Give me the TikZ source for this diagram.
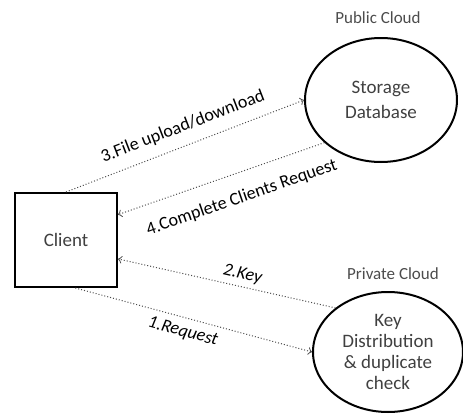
\documentclass[tikz,border=0pt]{standalone}
\usepackage{fontspec}
\setmainfont{Carlito}
\usetikzlibrary{shapes.geometric}
\begin{document}
\begin{tikzpicture}[x=0.5pt,y=-0.5pt,
	box/.style={draw,line width=1pt,minimum width=51pt,minimum height=47pt,text=black!75,font=\fontsize{9.5}{11}\selectfont},
	cloud/.style={draw,ellipse,line width=1pt,align=center,inner sep=0pt,text=black!75},
	msg/.style={densely dotted,black!70,line width=0.5pt,->},
	lab/.style={sloped,text=black,font=\fontsize{9}{11}\selectfont},
	zone/.style={text=black!70,font=\fontsize{8.5}{10}\selectfont}]
\useasboundingbox (0,0) rectangle (463,414);
%Client
\node[box] (C) at (66,240) {Client};
%Cloud public
\node[zone] (P) at (378,18) {Public Cloud};
\node[cloud,minimum width=76pt,minimum height=62pt,font=\fontsize{9.5}{12.5}\selectfont] (S) at (381,100) {Storage\\Database};
%Cloud prive
\node[zone] (Q) at (393,274) {Private Cloud};
\node[cloud,minimum width=75pt,minimum height=60pt,font=\fontsize{9.5}{10.5}\selectfont] (K) at (388,352) {Key\\Distribution\\\& duplicate\\check};
%messages
\draw[msg] (C.north) -- (S.west) node[lab,pos=0.52,above=2pt] {3.File upload/download};
\draw[msg] (S.217) -- (C.26) node[lab,pos=0.44,below=5pt] {4.Complete Clients Request};
\draw[msg] (K.140) -- (C.-20) node[lab,pos=0.44,above=-1pt] {\itshape 2.Key};
\draw[msg] (C.-79) -- (K.west) node[lab,pos=0.47,below=0pt] {\itshape 1.Request};
\end{tikzpicture}
\end{document}
